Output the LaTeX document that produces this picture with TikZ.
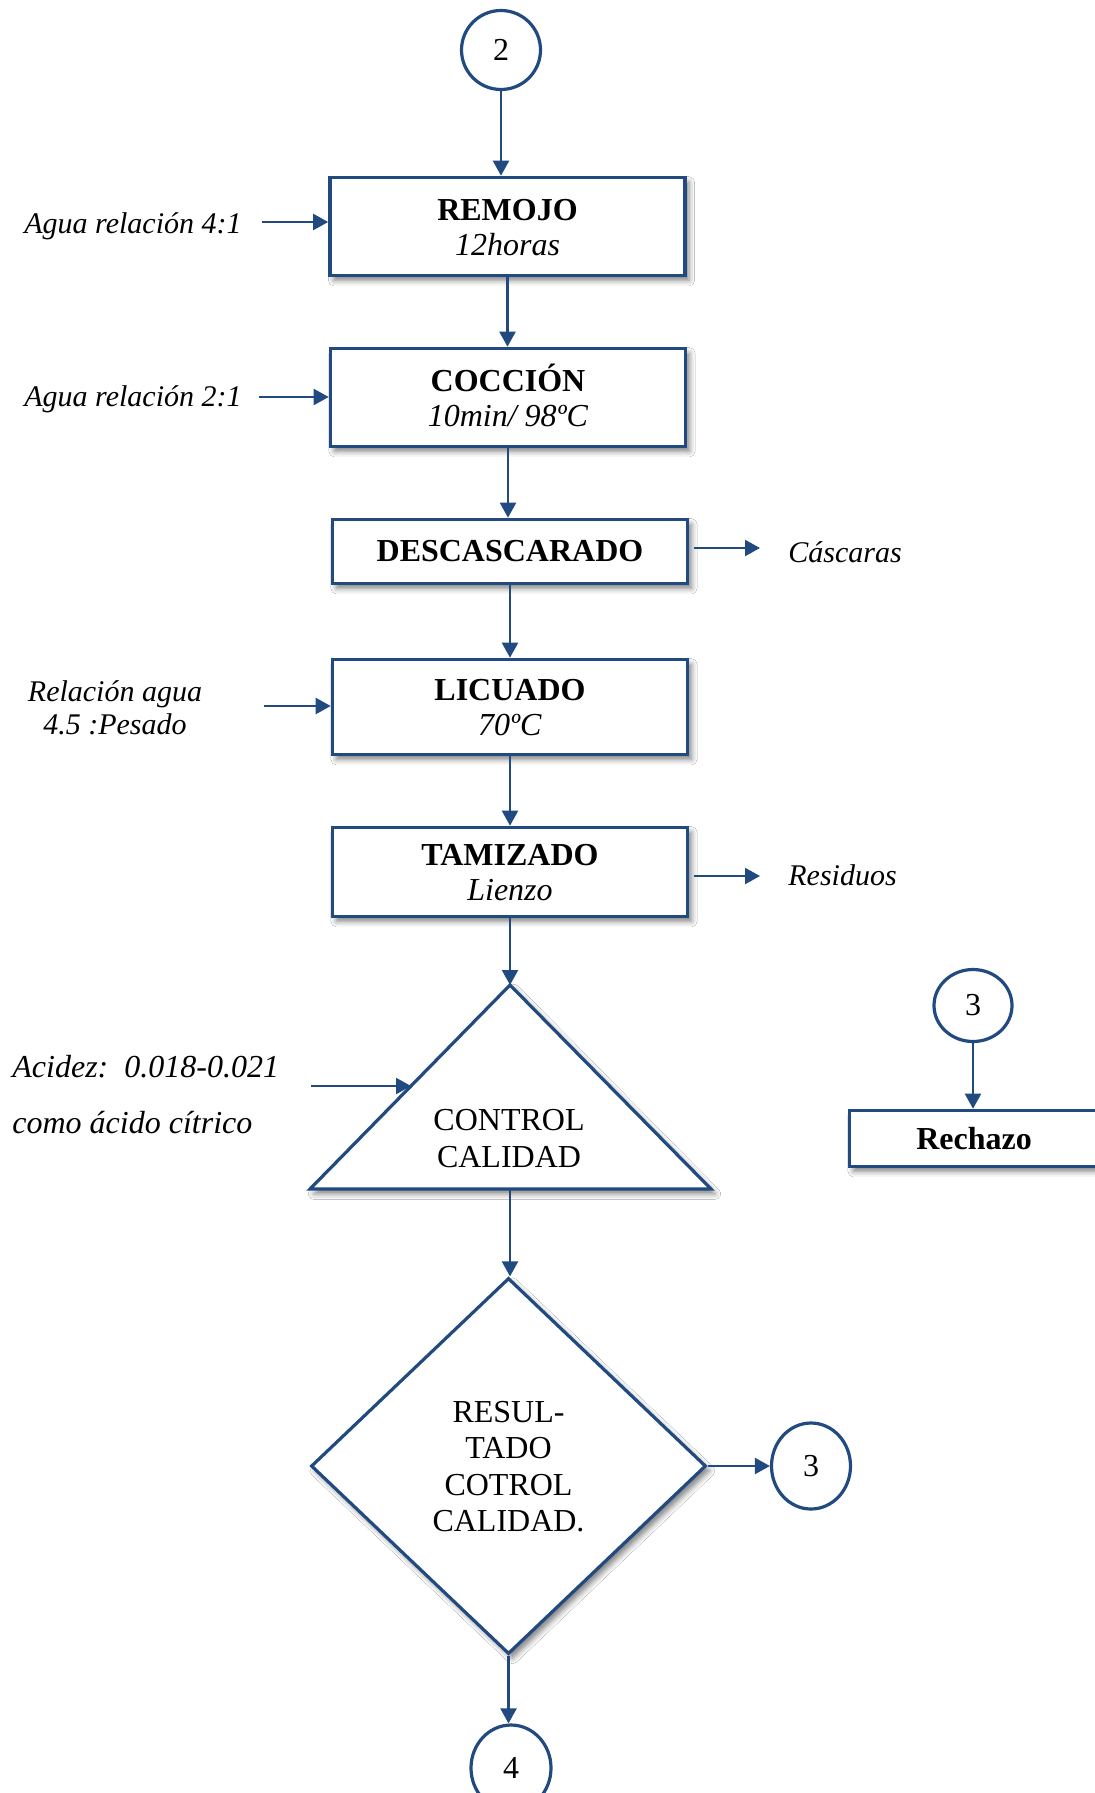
\documentclass[tikz,border=0pt]{standalone}
\usepackage{fontspec}
\setmainfont{Liberation Serif}
\usetikzlibrary{arrows.meta,shapes.geometric,shadows.blur,calc}
\definecolor{flow}{RGB}{33,74,128}
% two-line text with fixed top and bottom struts
\newcommand{\twol}[2]{\rule{0pt}{15pt}#1\\#2\rule[-4pt]{0pt}{4pt}}
\begin{document}
\begin{tikzpicture}[x=0.5pt,y=-0.5pt,
  softshadow/.style={blur shadow={shadow xshift=2pt,shadow yshift=-2.4pt,shadow blur radius=2.8pt,shadow opacity=50}},
  stepbox/.style={draw=flow,line width=1.8pt,fill=white,inner sep=0pt,align=center,
    font=\fontsize{16}{17.5}\selectfont,softshadow},
  conn/.style={draw=flow,line width=1.1pt,-{Triangle[length=7.5pt,width=8pt]}},
  tag/.style={font=\fontsize{15}{16.5}\selectfont\itshape,inner sep=0pt},
  ring/.style={ellipse,draw=flow,line width=1.6pt,fill=white,inner sep=0pt,
    font=\fontsize{16}{18}\selectfont}]
\fill[white] (0,0) rectangle (1094,1793);
\useasboundingbox (0,0) rectangle (1094,1793);

% connector circles
\node[ring,minimum width=39.5pt,minimum height=39.5pt] (c2) at (501,50) {2};
\node[ring,minimum width=39pt,minimum height=36pt] (c3a) at (973,1005.5) {3};
\node[ring,minimum width=39.5pt,minimum height=43pt] (c3b) at (811,1466) {3};
\node[ring,minimum width=40pt,minimum height=43pt] (c4) at (511,1768) {4};

% process steps
\node[stepbox,minimum width=177.5pt,minimum height=49pt] (remojo) at (507.5,226.5)
  {\twol{\textbf{REMOJO}}{\textit{12horas}}};
\node[stepbox,minimum width=177.5pt,minimum height=49pt] (coccion) at (508,397.5)
  {\twol{\textbf{COCCIÓN}}{\textit{10min/ 98ºC}}};
\node[stepbox,minimum width=177.5pt,minimum height=32pt] (desc) at (510,551.5)
  {\textbf{DESCASCARADO}};
\node[stepbox,minimum width=177.5pt,minimum height=47.5pt] (licuado) at (510,707)
  {\twol{\textbf{LICUADO}}{\textit{70ºC}}};
\node[stepbox,minimum width=177.5pt,minimum height=44.5pt] (tamizado) at (510,872)
  {\twol{\textbf{TAMIZADO}}{\textit{Lienzo}}};
\node[stepbox,minimum width=124.5pt,minimum height=28pt] (rechazo) at (974,1138.5)
  {\textbf{Rechazo}};

% quality control triangle
\coordinate (tri-top) at (510,985);
\coordinate (tri-l) at (310,1189);
\coordinate (tri-r) at (711,1189);
\coordinate (tri-base) at (510,1189);
\path[draw=flow,line width=1.6pt,fill=white,softshadow] (tri-top) -- (tri-r) -- (tri-l) -- cycle;
\node[inner sep=0pt,align=center,font=\fontsize{16}{18.5}\selectfont] (ctrl) at (509,1138)
  {\twol{CONTROL}{CALIDAD}};

% decision diamond
\node[diamond,aspect=1,draw=flow,line width=1.6pt,fill=white,inner sep=0pt,
  minimum width=197.5pt,minimum height=188pt,align=center,
  font=\fontsize{16}{18.25}\selectfont,softshadow] (dec) at (508.5,1466)
  {\rule{0pt}{15pt}RESUL-\\TADO\\COTROL\\CALIDAD.\rule[-4pt]{0pt}{4pt}};

% side labels
\node[tag,anchor=base west] (agua1) at (24,233) {Agua relación 4:1};
\node[tag,anchor=base west] (agua2) at (24,406) {Agua relación 2:1};
\node[tag,anchor=base west] (casc) at (788,562) {Cáscaras};
\node[tag,anchor=base] (rel1) at (115,701) {Relación agua};
\node[tag,anchor=base] (rel2) at (115,734) {4.5 :Pesado};
\node[tag,anchor=base west] (resid) at (788,885) {Residuos};
\node[tag,font=\fontsize{16}{18}\selectfont\itshape,anchor=base west] (acid1) at (12,1077)
  {Acidez:\ \ 0.018-0.021};
\node[tag,font=\fontsize{16}{18}\selectfont\itshape,anchor=base west] (acid2) at (12,1133)
  {como ácido cítrico};

% main flow
\draw[conn] (c2) -- (c2 |- remojo.north);
\draw[conn] (remojo.south) -- (remojo.south |- coccion.north);
\draw[conn] (coccion.south) -- (coccion.south |- desc.north);
\draw[conn] (desc.south) -- (desc.south |- licuado.north);
\draw[conn] (licuado.south) -- (licuado.south |- tamizado.north);
\draw[conn] (tamizado.south -| tri-top) -- (tri-top);
\draw[conn] (tri-base) -- (tri-base |- dec.north);
\draw[conn] (dec.south) -- (dec.south |- c4.north);
\draw[conn] (dec.east) -- (c3b.west);
\draw[conn] (c3a) -- (c3a |- rechazo.north);

% inputs and outputs
\coordinate (in1) at (262,222);
\draw[conn] (in1) -- (in1 -| remojo.west);
\coordinate (in2) at (259,397);
\draw[conn] (in2) -- (in2 -| coccion.west);
\coordinate (in3) at (264,706);
\draw[conn] (in3) -- (in3 -| licuado.west);
\coordinate (out1) at (760,548);
\draw[conn] ([xshift=2.5pt]desc.east |- out1) -- (out1);
\coordinate (out2) at (760,876);
\draw[conn] ([xshift=2.5pt]tamizado.east |- out2) -- (out2);
\coordinate (acid-src) at (311,1086);
\coordinate (acid-in) at ($(tri-l)!0.505!(tri-top)$);
\draw[conn] (acid-src) -- (acid-src -| acid-in);
\end{tikzpicture}
\end{document}
